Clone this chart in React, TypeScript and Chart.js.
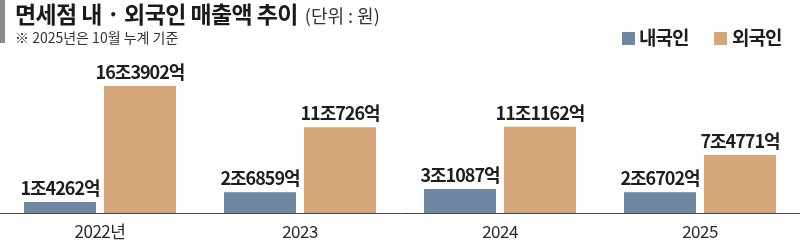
import React, { useEffect, useRef } from "react";
import { Chart, registerables } from "chart.js";

Chart.register(...registerables);

const categories = ["2022년", "2023", "2024", "2025"];
const domesticValues = [14262, 26859, 31087, 26702]; // 억 원
const foreignValues = [163902, 110726, 111162, 74771]; // 억 원
const domesticLabels = ["1조4262억", "2조6859억", "3조1087억", "2조6702억"];
const foreignLabels = ["16조3902억", "11조726억", "11조1162억", "7조4771억"];
const seriesNames = ["내국인", "외국인"];

const BLUE = "#6f87a3";
const TAN = "#d4a678";
const FONT = "'Noto Sans CJK KR', 'Noto Sans', sans-serif";

const valueLabelPlugin = {
  id: "valueLabels",
  afterDatasetsDraw(chart: any) {
    const ctx = chart.ctx;
    const labelSets = [domesticLabels, foreignLabels];
    ctx.save();
    ctx.font = `bold 18px ${FONT}`;
    (ctx as any).letterSpacing = "-1px";
    ctx.fillStyle = "#1e1e1e";
    ctx.textAlign = "center";
    ctx.textBaseline = "alphabetic";
    chart.data.datasets.forEach((_: any, di: number) => {
      const meta = chart.getDatasetMeta(di);
      meta.data.forEach((bar: any, i: number) => {
        ctx.fillText(labelSets[di][i], bar.x, bar.y - 7);
      });
    });
    ctx.restore();
  },
};

const spacingPlugin = {
  id: "tickSpacing",
  beforeDraw(chart: any) {
    (chart.ctx as any).letterSpacing = "-0.5px";
  },
};

export default function App() {
  const canvasRef = useRef<HTMLCanvasElement | null>(null);

  useEffect(() => {
    if (!canvasRef.current) return;
    const chart = new Chart(canvasRef.current, {
      type: "bar",
      data: {
        labels: categories,
        datasets: [
          {
            label: seriesNames[0],
            data: domesticValues,
            backgroundColor: BLUE,
            borderWidth: 0,
            categoryPercentage: 0.8,
            barPercentage: 0.9,
          },
          {
            label: seriesNames[1],
            data: foreignValues,
            backgroundColor: TAN,
            borderWidth: 0,
            categoryPercentage: 0.8,
            barPercentage: 0.9,
          },
        ],
      },
      options: {
        responsive: false,
        animation: false,
        devicePixelRatio: 1,
        layout: { padding: { top: 58, left: 0, right: 0, bottom: 0 } },
        plugins: {
          legend: { display: false },
          title: { display: false },
          tooltip: { enabled: false },
        },
        scales: {
          x: {
            grid: { display: false },
            border: { display: true, color: "#444", width: 1 },
            ticks: {
              color: "#2a2a2a",
              font: { family: FONT, size: 17 },
              padding: 0,
              maxRotation: 0,
            },
            afterFit(scale: any) {
              scale.height = 28;
            },
          },
          y: {
            display: false,
            min: 0,
            max: 200000,
          },
        },
      },
      plugins: [spacingPlugin, valueLabelPlugin],
    });
    return () => chart.destroy();
  }, []);

  return (
    <div
      style={{
        position: "fixed",
        left: 0,
        top: 0,
        width: 800,
        height: 241,
        background: "#ffffff",
        overflow: "hidden",
        fontFamily: FONT,
      }}
    >
      <canvas ref={canvasRef} width={800} height={241} style={{ display: "block", position: "absolute", left: 0, top: 0 }} />
      <div style={{ position: "absolute", left: 0, top: 0, width: 5, height: 43, background: "#8a8a8a" }} />
      <div
        style={{
          position: "absolute",
          left: 15,
          top: 0,
          whiteSpace: "nowrap",
          lineHeight: "26px",
          color: "#1a1a1a",
        }}
      >
        <span style={{ fontSize: 23, fontWeight: 700, letterSpacing: "-0.6px" }}>면세점 내 · 외국인 매출액 추이</span>
        <span style={{ fontSize: 18, fontWeight: 400, letterSpacing: "0px", color: "#333", marginLeft: 7 }}>(단위 : 원)</span>
      </div>
      <div
        style={{
          position: "absolute",
          left: 15,
          top: 28,
          fontSize: 14,
          lineHeight: "18px",
          color: "#333",
          whiteSpace: "nowrap",
          letterSpacing: "0px",
        }}
      >
        ※ 2025년은 10월 누계 기준
      </div>
      <div style={{ position: "absolute", left: 622, top: 32, width: 13, height: 13, background: BLUE }} />
      <div
        style={{
          position: "absolute",
          left: 639,
          top: 25,
          fontSize: 19,
          fontWeight: 700,
          lineHeight: "24px",
          letterSpacing: "-1px",
          color: "#1e1e1e",
          whiteSpace: "nowrap",
        }}
      >
        {seriesNames[0]}
      </div>
      <div style={{ position: "absolute", left: 714, top: 32, width: 13, height: 13, background: TAN }} />
      <div
        style={{
          position: "absolute",
          left: 732,
          top: 25,
          fontSize: 19,
          fontWeight: 700,
          lineHeight: "24px",
          letterSpacing: "-1px",
          color: "#1e1e1e",
          whiteSpace: "nowrap",
        }}
      >
        {seriesNames[1]}
      </div>
    </div>
  );
}
